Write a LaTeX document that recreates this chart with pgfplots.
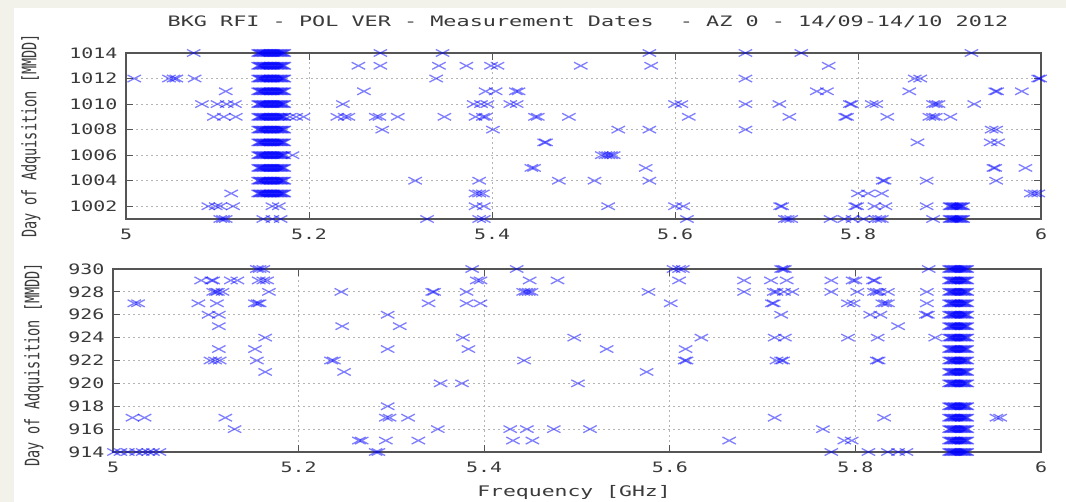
\documentclass[border=0pt]{standalone}
\usepackage{fontspec}
\usepackage{pgfplots}
\pgfplotsset{compat=1.18}
\newfontfamily\gp{DejaVu Sans Mono}
\definecolor{pagebg}{HTML}{F2F2EA}
\definecolor{frame}{HTML}{555555}
\definecolor{txt}{HTML}{3A3A3A}
\definecolor{gridc}{HTML}{B4B4B4}

\pgfplotsset{
  rfi/.style={
    scale only axis, clip=false,
    xmin=5, xmax=6, xtick={5,5.2,5.4,5.6,5.8,6},
    axis line style={frame, line width=1.2bp},
    every tick/.style={frame, line width=1bp},
    tick align=inside, major tick length=7bp,
    grid=major,
    major grid style={gridc, line width=0.9bp, dash pattern=on 2bp off 3bp},
    tick label style={font=\gp\fontsize{20}{20}\selectfont, text=txt, yscale=0.72},
    /pgf/number format/assume math mode=true,
    /pgf/number format/1000 sep={},
    xticklabel style={yshift=-10bp},
    yticklabel style={xshift=-5bp},
  },
  rfimark/.style={only marks, mark=x, mark size=5bp,
    mark options={xscale=1.9, line width=1.3bp, draw=blue, draw opacity=0.5}},
}

\begin{document}
\begin{tikzpicture}
\useasboundingbox (0bp,0bp) rectangle (1066bp,502bp);
\fill[pagebg] (0bp,0bp) rectangle (1066bp,502bp);
\fill[white] (14bp,0bp) rectangle (1066bp,494bp);

\node[font=\gp\fontsize{21.9}{22}\selectfont, text=txt, yscale=0.66] at (588bp,480bp)
  {BKG RFI - POL VER - Measurement Dates\ \ - AZ 0 - 14/09-14/10 2012};

% ---------- October acquisitions ----------
\begin{axis}[rfi, at={(126bp,283bp)}, anchor=south west, width=915bp, height=166bp,
  ymin=1001, ymax=1014, ytick={1002,1004,1006,1008,1010,1012,1014}]
% isolated detections
\addplot[rfimark] coordinates {
 (5.074,1014) (5.278,1014) (5.346,1014) (5.572,1014) (5.677,1014) (5.738,1014) (5.924,1014)
 (5.254,1013) (5.278,1013) (5.342,1013) (5.372,1013) (5.399,1013) (5.406,1013) (5.497,1013) (5.574,1013) (5.768,1013)
 (5.009,1012) (5.047,1012) (5.052,1012) (5.055,1012) (5.075,1012) (5.339,1012) (5.677,1012) (5.862,1012) (5.868,1012) (5.997,1012) (5.999,1012)
 (5.109,1011) (5.260,1011) (5.393,1011) (5.404,1011) (5.426,1011) (5.429,1011) (5.755,1011) (5.766,1011) (5.856,1011) (5.950,1011) (5.952,1011) (5.979,1011)
 (5.083,1010) (5.100,1010) (5.110,1010) (5.119,1010) (5.237,1010) (5.380,1010) (5.388,1010) (5.395,1010) (5.420,1010) (5.427,1010)
 (5.600,1010) (5.607,1010) (5.677,1010) (5.714,1010) (5.791,1010) (5.793,1010) (5.815,1010) (5.820,1010) (5.882,1010) (5.885,1010) (5.888,1010) (5.927,1010)
 (5.096,1009) (5.107,1009) (5.120,1009) (5.179,1009) (5.186,1009) (5.194,1009) (5.231,1009) (5.239,1009) (5.243,1009) (5.273,1009) (5.277,1009)
 (5.297,1009) (5.348,1009) (5.382,1009) (5.390,1009) (5.393,1009) (5.447,1009) (5.450,1009) (5.484,1009) (5.615,1009) (5.725,1009)
 (5.786,1009) (5.788,1009) (5.832,1009) (5.878,1009) (5.882,1009) (5.885,1009) (5.901,1009)
 (5.280,1008) (5.401,1008) (5.538,1008) (5.572,1008) (5.677,1008) (5.946,1008) (5.951,1008)
 (5.457,1007) (5.459,1007) (5.865,1007) (5.945,1007) (5.953,1007)
 (5.182,1006) (5.520,1006) (5.524,1006) (5.527,1006) (5.530,1006) (5.533,1006)
 (5.443,1005) (5.446,1005) (5.568,1005) (5.948,1005) (5.950,1005) (5.983,1005)
 (5.316,1004) (5.386,1004) (5.473,1004) (5.512,1004) (5.572,1004) (5.827,1004) (5.829,1004) (5.875,1004) (5.951,1004)
 (5.115,1003) (5.382,1003) (5.386,1003) (5.390,1003) (5.800,1003) (5.811,1003) (5.826,1003) (5.989,1003) (5.993,1003) (5.997,1003)
 (5.090,1002) (5.098,1002) (5.103,1002) (5.117,1002) (5.160,1002) (5.167,1002) (5.382,1002) (5.391,1002) (5.527,1002) (5.600,1002)
 (5.609,1002) (5.715,1002) (5.717,1002) (5.797,1002) (5.799,1002) (5.818,1002) (5.830,1002) (5.875,1002)
 (5.103,1001) (5.106,1001) (5.109,1001) (5.150,1001) (5.160,1001) (5.169,1001) (5.329,1001) (5.386,1001) (5.391,1001) (5.613,1001)
 (5.720,1001) (5.723,1001) (5.727,1001) (5.770,1001) (5.785,1001) (5.794,1001) (5.806,1001) (5.819,1001) (5.823,1001) (5.826,1001) (5.882,1001)
};
% persistent interferer near 5.16 GHz
\addplot[rfimark] coordinates {
 (5.1445,1014) (5.146,1014) (5.1475,1014) (5.149,1014) (5.1505,1014) (5.152,1014) (5.1535,1014) (5.155,1014) (5.1565,1014) (5.158,1014)
 (5.1595,1014) (5.161,1014) (5.1625,1014) (5.164,1014) (5.1655,1014) (5.167,1014) (5.1685,1014) (5.170,1014) (5.1715,1014) (5.173,1014)
 (5.1445,1013) (5.146,1013) (5.1475,1013) (5.149,1013) (5.1505,1013) (5.152,1013) (5.1535,1013) (5.155,1013) (5.1565,1013) (5.158,1013)
 (5.1595,1013) (5.161,1013) (5.1625,1013) (5.164,1013) (5.1655,1013) (5.167,1013) (5.1685,1013) (5.170,1013) (5.1715,1013) (5.173,1013)
 (5.1445,1012) (5.146,1012) (5.1475,1012) (5.149,1012) (5.1505,1012) (5.152,1012) (5.1535,1012) (5.155,1012) (5.1565,1012) (5.158,1012)
 (5.1595,1012) (5.161,1012) (5.1625,1012) (5.164,1012) (5.1655,1012) (5.167,1012) (5.1685,1012) (5.170,1012) (5.1715,1012) (5.173,1012)
 (5.1445,1011) (5.146,1011) (5.1475,1011) (5.149,1011) (5.1505,1011) (5.152,1011) (5.1535,1011) (5.155,1011) (5.1565,1011) (5.158,1011)
 (5.1595,1011) (5.161,1011) (5.1625,1011) (5.164,1011) (5.1655,1011) (5.167,1011) (5.1685,1011) (5.170,1011) (5.1715,1011) (5.173,1011)
 (5.1445,1010) (5.146,1010) (5.1475,1010) (5.149,1010) (5.1505,1010) (5.152,1010) (5.1535,1010) (5.155,1010) (5.1565,1010) (5.158,1010)
 (5.1595,1010) (5.161,1010) (5.1625,1010) (5.164,1010) (5.1655,1010) (5.167,1010) (5.1685,1010) (5.170,1010) (5.1715,1010) (5.173,1010)
 (5.1445,1009) (5.146,1009) (5.1475,1009) (5.149,1009) (5.1505,1009) (5.152,1009) (5.1535,1009) (5.155,1009) (5.1565,1009) (5.158,1009)
 (5.1595,1009) (5.161,1009) (5.1625,1009) (5.164,1009) (5.1655,1009) (5.167,1009) (5.1685,1009) (5.170,1009) (5.1715,1009) (5.173,1009)
 (5.1445,1008) (5.146,1008) (5.1475,1008) (5.149,1008) (5.1505,1008) (5.152,1008) (5.1535,1008) (5.155,1008) (5.1565,1008) (5.158,1008)
 (5.1595,1008) (5.161,1008) (5.1625,1008) (5.164,1008) (5.1655,1008) (5.167,1008) (5.1685,1008) (5.170,1008) (5.1715,1008) (5.173,1008)
 (5.1445,1007) (5.146,1007) (5.1475,1007) (5.149,1007) (5.1505,1007) (5.152,1007) (5.1535,1007) (5.155,1007) (5.1565,1007) (5.158,1007)
 (5.1595,1007) (5.161,1007) (5.1625,1007) (5.164,1007) (5.1655,1007) (5.167,1007) (5.1685,1007) (5.170,1007) (5.1715,1007) (5.173,1007)
 (5.1445,1006) (5.146,1006) (5.1475,1006) (5.149,1006) (5.1505,1006) (5.152,1006) (5.1535,1006) (5.155,1006) (5.1565,1006) (5.158,1006)
 (5.1595,1006) (5.161,1006) (5.1625,1006) (5.164,1006) (5.1655,1006) (5.167,1006) (5.1685,1006) (5.170,1006) (5.1715,1006) (5.173,1006)
 (5.1445,1005) (5.146,1005) (5.1475,1005) (5.149,1005) (5.1505,1005) (5.152,1005) (5.1535,1005) (5.155,1005) (5.1565,1005) (5.158,1005)
 (5.1595,1005) (5.161,1005) (5.1625,1005) (5.164,1005) (5.1655,1005) (5.167,1005) (5.1685,1005) (5.170,1005) (5.1715,1005) (5.173,1005)
 (5.1445,1004) (5.146,1004) (5.1475,1004) (5.149,1004) (5.1505,1004) (5.152,1004) (5.1535,1004) (5.155,1004) (5.1565,1004) (5.158,1004)
 (5.1595,1004) (5.161,1004) (5.1625,1004) (5.164,1004) (5.1655,1004) (5.167,1004) (5.1685,1004) (5.170,1004) (5.1715,1004) (5.173,1004)
 (5.1445,1003) (5.146,1003) (5.1475,1003) (5.149,1003) (5.1505,1003) (5.152,1003) (5.1535,1003) (5.155,1003) (5.1565,1003) (5.158,1003)
 (5.1595,1003) (5.161,1003) (5.1625,1003) (5.164,1003) (5.1655,1003) (5.167,1003) (5.1685,1003) (5.170,1003) (5.1715,1003) (5.173,1003)
};
% interferer near 5.91 GHz on the first days
\addplot[rfimark] coordinates {
 (5.900,1002) (5.9015,1002) (5.903,1002) (5.9045,1002) (5.906,1002) (5.9075,1002) (5.909,1002) (5.9105,1002) (5.912,1002) (5.9135,1002) (5.915,1002)
 (5.900,1001) (5.9015,1001) (5.903,1001) (5.9045,1001) (5.906,1001) (5.9075,1001) (5.909,1001) (5.9105,1001) (5.912,1001) (5.9135,1001) (5.915,1001)
};
\end{axis}

% ---------- September acquisitions ----------
\begin{axis}[rfi, at={(113bp,50bp)}, anchor=south west, width=928bp, height=183bp,
  ymin=914, ymax=930, ytick={914,916,918,920,922,924,926,928,930}]
% isolated detections
\addplot[rfimark] coordinates {
 (5.155,930) (5.158,930) (5.162,930) (5.387,930) (5.435,930) (5.604,930) (5.610,930) (5.614,930) (5.720,930) (5.722,930) (5.724,930) (5.879,930)
 (5.095,929) (5.106,929) (5.108,929) (5.127,929) (5.134,929) (5.157,929) (5.162,929) (5.166,929) (5.392,929) (5.396,929) (5.449,929)
 (5.479,929) (5.610,929) (5.680,929) (5.709,929) (5.726,929) (5.774,929) (5.797,929) (5.800,929) (5.819,929) (5.821,929)
 (5.108,928) (5.111,928) (5.113,928) (5.118,928) (5.168,928) (5.246,928) (5.344,928) (5.346,928) (5.381,928) (5.442,928) (5.445,928)
 (5.448,928) (5.451,928) (5.577,928) (5.680,928) (5.712,928) (5.715,928) (5.723,928) (5.732,928) (5.774,928) (5.802,928) (5.820,928)
 (5.823,928) (5.826,928) (5.835,928) (5.877,928)
 (5.023,927) (5.027,927) (5.092,927) (5.112,927) (5.153,927) (5.156,927) (5.158,927) (5.340,927) (5.381,927) (5.396,927) (5.601,927)
 (5.710,927) (5.712,927) (5.792,927) (5.798,927) (5.829,927) (5.832,927) (5.835,927) (5.877,927)
 (5.103,926) (5.114,926) (5.296,926) (5.720,926) (5.816,926) (5.827,926) (5.876,926) (5.878,926)
 (5.114,925) (5.247,925) (5.309,925) (5.846,925)
 (5.164,924) (5.377,924) (5.497,924) (5.634,924) (5.713,924) (5.724,924) (5.792,924) (5.824,924) (5.886,924)
 (5.114,923) (5.153,923) (5.296,923) (5.383,923) (5.532,923) (5.617,923)
 (5.105,922) (5.110,922) (5.115,922) (5.155,922) (5.235,922) (5.238,922) (5.443,922) (5.616,922) (5.618,922) (5.715,922) (5.720,922)
 (5.722,922) (5.823,922) (5.825,922)
 (5.164,921) (5.249,921) (5.575,921)
 (5.353,920) (5.376,920) (5.501,920)
 (5.296,918)
 (5.021,917) (5.034,917) (5.121,917) (5.294,917) (5.298,917) (5.318,917) (5.713,917) (5.831,917) (5.952,917) (5.956,917)
 (5.131,916) (5.350,916) (5.428,916) (5.446,916) (5.475,916) (5.514,916) (5.765,916)
 (5.265,915) (5.268,915) (5.294,915) (5.329,915) (5.431,915) (5.452,915) (5.664,915) (5.788,915) (5.796,915)
 (5.001,914) (5.008,914) (5.016,914) (5.025,914) (5.032,914) (5.038,914) (5.043,914) (5.050,914) (5.283,914) (5.286,914)
 (5.774,914) (5.814,914) (5.835,914) (5.846,914) (5.855,914)
};
% persistent interferer near 5.91 GHz
\addplot[rfimark] coordinates {
 (5.901,930) (5.9025,930) (5.904,930) (5.9055,930) (5.907,930) (5.9085,930) (5.910,930) (5.9115,930) (5.913,930) (5.9145,930) (5.916,930) (5.9175,930) (5.919,930) (5.9205,930)
 (5.901,929) (5.9025,929) (5.904,929) (5.9055,929) (5.907,929) (5.9085,929) (5.910,929) (5.9115,929) (5.913,929) (5.9145,929) (5.916,929) (5.9175,929) (5.919,929) (5.9205,929)
 (5.901,928) (5.9025,928) (5.904,928) (5.9055,928) (5.907,928) (5.9085,928) (5.910,928) (5.9115,928) (5.913,928) (5.9145,928) (5.916,928) (5.9175,928) (5.919,928) (5.9205,928)
 (5.901,927) (5.9025,927) (5.904,927) (5.9055,927) (5.907,927) (5.9085,927) (5.910,927) (5.9115,927) (5.913,927) (5.9145,927) (5.916,927) (5.9175,927) (5.919,927) (5.9205,927)
 (5.901,926) (5.9025,926) (5.904,926) (5.9055,926) (5.907,926) (5.9085,926) (5.910,926) (5.9115,926) (5.913,926) (5.9145,926) (5.916,926) (5.9175,926) (5.919,926) (5.9205,926)
 (5.901,925) (5.9025,925) (5.904,925) (5.9055,925) (5.907,925) (5.9085,925) (5.910,925) (5.9115,925) (5.913,925) (5.9145,925) (5.916,925) (5.9175,925) (5.919,925) (5.9205,925)
 (5.901,924) (5.9025,924) (5.904,924) (5.9055,924) (5.907,924) (5.9085,924) (5.910,924) (5.9115,924) (5.913,924) (5.9145,924) (5.916,924) (5.9175,924) (5.919,924) (5.9205,924)
 (5.901,923) (5.9025,923) (5.904,923) (5.9055,923) (5.907,923) (5.9085,923) (5.910,923) (5.9115,923) (5.913,923) (5.9145,923) (5.916,923) (5.9175,923) (5.919,923) (5.9205,923)
 (5.901,922) (5.9025,922) (5.904,922) (5.9055,922) (5.907,922) (5.9085,922) (5.910,922) (5.9115,922) (5.913,922) (5.9145,922) (5.916,922) (5.9175,922) (5.919,922) (5.9205,922)
 (5.901,921) (5.9025,921) (5.904,921) (5.9055,921) (5.907,921) (5.9085,921) (5.910,921) (5.9115,921) (5.913,921) (5.9145,921) (5.916,921) (5.9175,921) (5.919,921) (5.9205,921)
 (5.901,920) (5.9025,920) (5.904,920) (5.9055,920) (5.907,920) (5.9085,920) (5.910,920) (5.9115,920) (5.913,920) (5.9145,920) (5.916,920) (5.9175,920) (5.919,920) (5.9205,920)
 (5.901,918) (5.9025,918) (5.904,918) (5.9055,918) (5.907,918) (5.9085,918) (5.910,918) (5.9115,918) (5.913,918) (5.9145,918) (5.916,918) (5.9175,918) (5.919,918) (5.9205,918)
 (5.901,917) (5.9025,917) (5.904,917) (5.9055,917) (5.907,917) (5.9085,917) (5.910,917) (5.9115,917) (5.913,917) (5.9145,917) (5.916,917) (5.9175,917) (5.919,917) (5.9205,917)
 (5.901,916) (5.9025,916) (5.904,916) (5.9055,916) (5.907,916) (5.9085,916) (5.910,916) (5.9115,916) (5.913,916) (5.9145,916) (5.916,916) (5.9175,916) (5.919,916) (5.9205,916)
 (5.901,915) (5.9025,915) (5.904,915) (5.9055,915) (5.907,915) (5.9085,915) (5.910,915) (5.9115,915) (5.913,915) (5.9145,915) (5.916,915) (5.9175,915) (5.919,915) (5.9205,915)
 (5.901,914) (5.9025,914) (5.904,914) (5.9055,914) (5.907,914) (5.9085,914) (5.910,914) (5.9115,914) (5.913,914) (5.9145,914) (5.916,914) (5.9175,914) (5.919,914) (5.9205,914)
};
\end{axis}

% axis titles
\node[font=\gp\fontsize{20}{20}\selectfont, text=txt, rotate=90, xscale=0.68] at (31bp,366bp)
  {Day of Adquisition [MMDD]};
\node[font=\gp\fontsize{20}{20}\selectfont, text=txt, rotate=90, xscale=0.68] at (34bp,137bp)
  {Day of Adquisition [MMDD]};
\node[font=\gp\fontsize{21.5}{22}\selectfont, text=txt, yscale=0.68] at (574bp,10bp)
  {Frequency [GHz]};
\end{tikzpicture}
\end{document}
